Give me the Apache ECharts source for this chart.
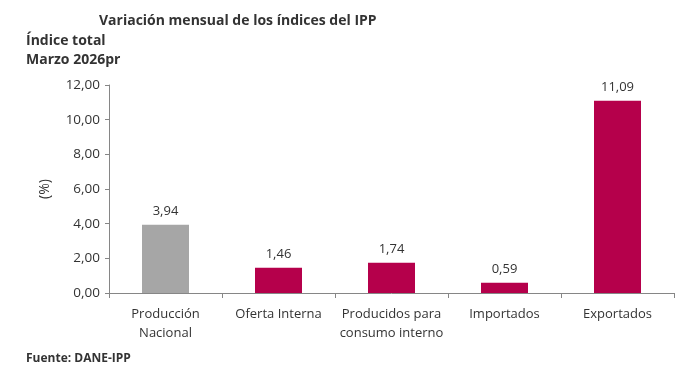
<!DOCTYPE html>
<html><head><meta charset="utf-8">
<script src="https://cdn.jsdelivr.net/npm/echarts@6/dist/echarts.min.js"></script>
<style>html,body{margin:0;padding:0;background:#fff}#c{width:697px;height:370px}</style>
</head><body><div id="c"></div>
<script>
const categories = ['Producción\nNacional', 'Oferta Interna', 'Producidos para\nconsumo interno', 'Importados', 'Exportados'];
const values = [3.94, 1.46, 1.74, 0.59, 11.09];
const barColors = ['#a6a6a6', '#b5004b', '#b5004b', '#b5004b', '#b5004b'];
const yTicks = [0, 2, 4, 6, 8, 10, 12];

const FONT = '"Open Sans", "Noto Sans", sans-serif';
const fmt = v => v.toFixed(2).replace('.', ',');
const chart = echarts.init(document.getElementById('c'), null, {renderer: 'canvas'});
chart.setOption({
  animation: false,
  textStyle: {fontFamily: FONT},
  title: [
    {text: 'Variación mensual de los índices del IPP', left: 94, top: 9,
     textStyle: {fontSize: 14, fontWeight: 'bold', color: '#333', fontFamily: FONT}},
    {text: 'Índice total', left: 21, top: 29,
     textStyle: {fontSize: 14, fontWeight: 'bold', color: '#333', fontFamily: FONT}},
    {text: 'Marzo 2026pr', left: 21, top: 48,
     textStyle: {fontSize: 14, fontWeight: 'bold', color: '#333', fontFamily: FONT}},
    {text: '{b|Fuente:}{n| DANE-IPP}', left: 21, top: 348,
     textStyle: {rich: {b: {fontSize: 12, fontWeight: 'bold', color: '#333', fontFamily: FONT},
                        n: {fontSize: 12, color: '#333', fontFamily: FONT}}}}
  ],
  grid: {left: 109, right: 23, top: 85, bottom: 77, containLabel: false},
  xAxis: {
    type: 'category', data: categories,
    axisLine: {lineStyle: {color: '#868686'}},
    axisTick: {show: true, length: 5, lineStyle: {color: '#868686'}},
    axisLabel: {color: '#333', fontSize: 13, margin: 12, lineHeight: 19, fontFamily: FONT, interval: 0}
  },
  yAxis: {
    type: 'value', min: 0, max: 12, interval: 2,
    name: '(%)', nameLocation: 'middle', nameGap: 57, nameRotate: 90,
    nameTextStyle: {color: '#333', fontSize: 14, fontFamily: FONT},
    splitLine: {show: false},
    axisLine: {show: true, lineStyle: {color: '#868686'}},
    axisTick: {show: true, length: 4, lineStyle: {color: '#868686'}},
    axisLabel: {color: '#333', fontSize: 13.5, margin: 9, fontFamily: FONT, formatter: v => fmt(v)}
  },
  series: [{
    type: 'bar', barWidth: 47,
    data: values.map((v, i) => ({value: v, itemStyle: {color: barColors[i]}})),
    label: {show: true, position: 'top', distance: 7, color: '#333', fontSize: 13, fontFamily: FONT,
            formatter: p => fmt(p.value)}
  }]
});
</script></body></html>
